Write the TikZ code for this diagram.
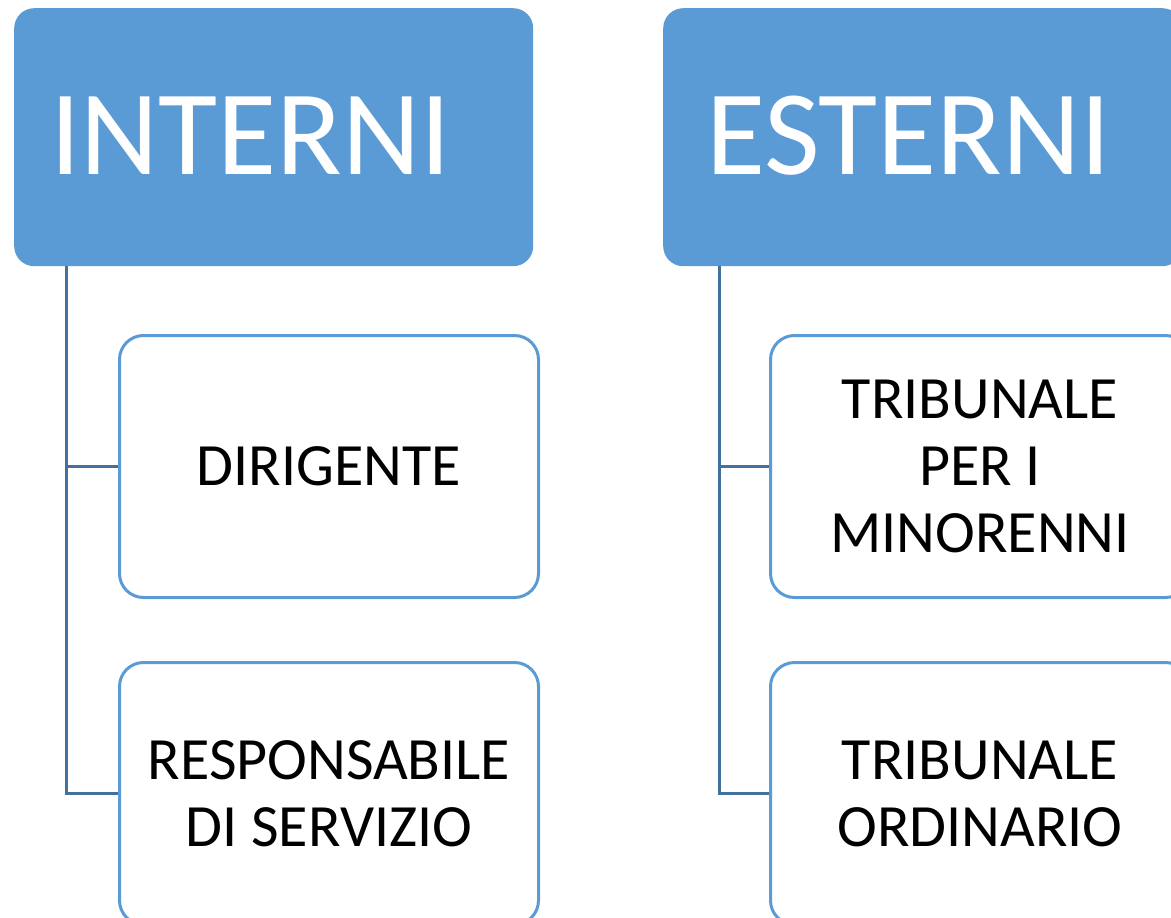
\documentclass[tikz,border=0pt]{standalone}
\usepackage{fontspec}
\setmainfont{Carlito}
\definecolor{hdrblue}{HTML}{5B9BD5}
\definecolor{connblue}{HTML}{41719C}
\tikzset{
  hdrbox/.style={rectangle, rounded corners=20pt, fill=hdrblue, draw=none, minimum width=519pt, minimum height=258pt, inner sep=0pt},
  hdrtext/.style={text=white, font=\fontsize{121}{121}\selectfont, inner sep=0pt, anchor=base west},
  childbox/.style={rectangle, rounded corners=24pt, fill=white, draw=hdrblue, line width=3pt, minimum width=419pt, minimum height=262pt, inner sep=0pt, align=center, font=\fontsize{60}{67}\selectfont},
  conn/.style={draw=connblue, line width=3pt}
}
\begin{document}
\begin{tikzpicture}[x=1pt,y=-1pt]
\useasboundingbox (0,0) rectangle (1171,918);
\clip (0,0) rectangle (1171,918);
% headers
\node[hdrbox, anchor=north west] (hdrL) at (14,8) {};
\node[hdrbox, anchor=north west] (hdrR) at (663,8) {};
\node[hdrtext] (tL) at (50,174) {INTERNI};
\node[hdrtext] (tR) at (706,174) {ESTERNI};
% children
\node[childbox, anchor=north west] (c1) at (118,334) {DIRIGENTE};
\node[childbox, anchor=north west] (c2) at (118,661) {RESPONSABILE\\DI SERVIZIO};
\node[childbox, anchor=north west] (c3) at (769,334) {TRIBUNALE\\PER I\\MINORENNI};
\node[childbox, anchor=north west] (c4) at (769,661) {TRIBUNALE\\ORDINARIO};
% connectors
\coordinate (jL) at ([xshift=52pt]hdrL.south west);
\coordinate (jR) at ([xshift=56pt]hdrR.south west);
\draw[conn] (jL) |- (c2.west);
\draw[conn] (c1.west) -- (c1.west -| jL);
\draw[conn] (jR) |- (c4.west);
\draw[conn] (c3.west) -- (c3.west -| jR);
\end{tikzpicture}
\end{document}
